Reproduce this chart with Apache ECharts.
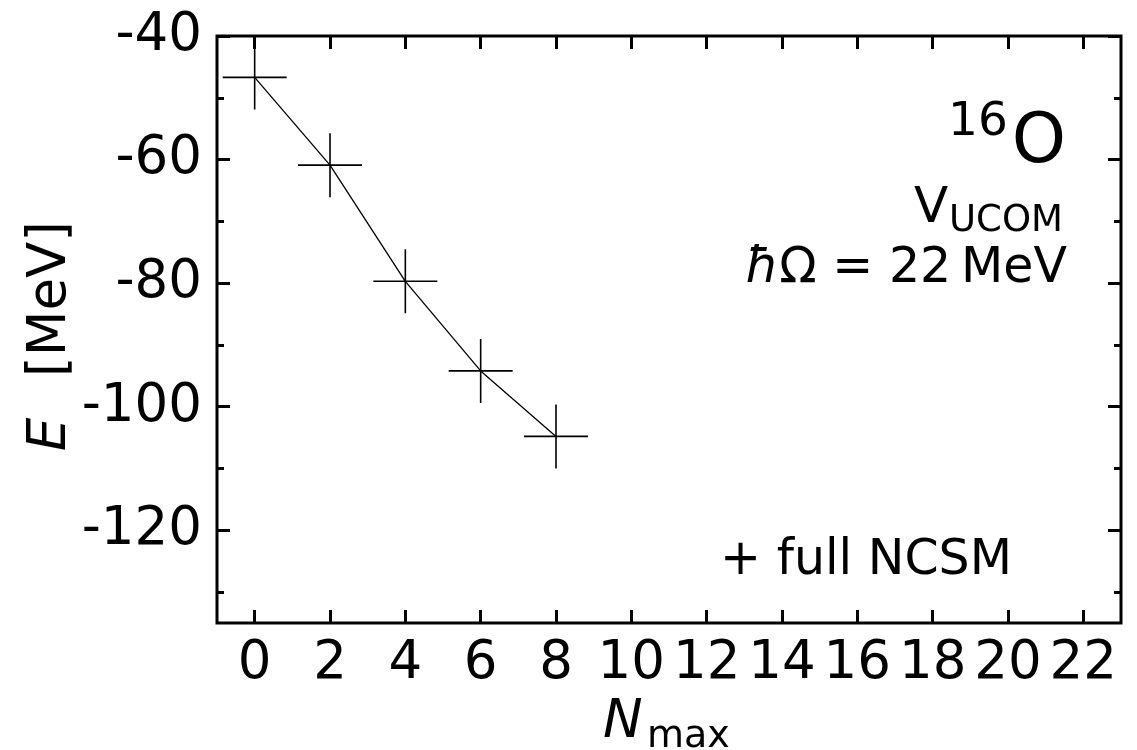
<!DOCTYPE html>
<html>
<head>
<meta charset="utf-8">
<script src="https://cdn.jsdelivr.net/npm/echarts@6/dist/echarts.min.js"></script>
<style>
html,body{margin:0;padding:0;background:#fff;}
#chart{width:1137px;height:750px;}
</style>
</head>
<body>
<div id="chart"></div>
<script>
// ---- data ----
const nmax = [0, 2, 4, 6, 8];
const energy = [-46.7, -60.9, -79.7, -94.2, -104.8];
const xTicks = [0, 2, 4, 6, 8, 10, 12, 14, 16, 18, 20, 22];
const yTicks = [-120, -100, -80, -60, -40];
const yMinorTicks = [-130, -110, -90, -70, -50];

const FONT = 'DejaVu Sans';
const chart = echarts.init(document.getElementById('chart'), null, {renderer: 'canvas'});

const seriesData = nmax.map((x, i) => [x, energy[i]]);
const crossPath = 'path://M0,50 L100,50 M50,0 L50,100';

function yAx(pos, vals, len, labels) {
  return {
    type: 'value', position: pos, min: -135, max: -40,
    axisLine: {show: false, onZero: false},
    splitLine: {show: false},
    axisTick: {show: true, inside: true, length: len, customValues: vals,
               lineStyle: {color: '#000', width: 3}},
    axisLabel: labels ? {show: true, customValues: vals, fontFamily: FONT, fontSize: 53,
               color: '#000', margin: 15, padding: [0, 0, 6, 0]} : {show: false}
  };
}
function xAx(pos, labels) {
  return {
    type: 'value', position: pos, min: -1, max: 23,
    axisLine: {show: false, onZero: false},
    splitLine: {show: false},
    axisTick: {show: true, inside: true, length: 13, customValues: xTicks,
               lineStyle: {color: '#000', width: 3}},
    axisLabel: labels ? {show: true, customValues: xTicks, fontFamily: FONT, fontSize: 53,
               color: '#000', margin: 15} : {show: false}
  };
}

const option = {
  animation: false,
  backgroundColor: '#fff',
  grid: {left: 217, top: 36, right: 16, bottom: 127, show: true,
         borderColor: '#000', borderWidth: 3, backgroundColor: 'transparent'},
  xAxis: [xAx('bottom', true), xAx('top', false)],
  yAxis: [yAx('left', yTicks, 13, true), yAx('left', yMinorTicks, 7, false),
          yAx('right', yTicks, 13, false), yAx('right', yMinorTicks, 7, false)],
  series: [{
    type: 'line', xAxisIndex: 0, yAxisIndex: 0,
    data: seriesData,
    symbol: crossPath, symbolSize: 64,
    itemStyle: {color: 'rgba(0,0,0,0)', borderColor: '#000', borderWidth: 1.6},
    lineStyle: {color: '#000', width: 1.3},
    clip: false
  }],
  graphic: [
    // 16O
    {type: 'text', x: 1066, y: 140 + 4.5, style: {text: 'O', font: '69px "DejaVu Sans"', fill: '#000', verticalAlign: 'middle', align: 'right'}},
    {type: 'text', x: 948, y: 120 + 3, style: {text: '16', font: '47px "DejaVu Sans"', fill: '#000', verticalAlign: 'middle', align: 'left'}},
    // V_UCOM
    {type: 'text', x: 914, y: 206.5 + 3, style: {text: 'V', font: '50px "DejaVu Sans"', fill: '#000', verticalAlign: 'middle', align: 'left'}},
    {type: 'text', x: 1063, y: 218.5 + 2.5, style: {text: 'UCOM', font: '37px "DejaVu Sans"', fill: '#000', verticalAlign: 'middle', align: 'right'}},
    // hbar Omega
    {type: 'text', x: 1067, y: 265.5 + 3.3, style: {
      text: '{i|ħ}Ω = 22\u2009MeV', font: '49px "DejaVu Sans"', fill: '#000', verticalAlign: 'middle', align: 'right',
      rich: {i: {fontFamily: FONT, fontStyle: 'italic', fontSize: 49, fill: '#000'}}}},
    // legend text
    {type: 'text', x: 720, y: 558 + 3.2, style: {text: '+ full NCSM', font: '49px "DejaVu Sans"', fill: '#000', verticalAlign: 'middle', align: 'left'}},
    // x axis title
    {type: 'text', x: 603, y: 720 + 3.5, style: {text: 'N', font: 'italic 53px "DejaVu Sans"', fill: '#000', verticalAlign: 'middle', align: 'left'}},
    {type: 'text', x: 647, y: 735 + 2.5, style: {text: 'max', font: '38px "DejaVu Sans"', fill: '#000', verticalAlign: 'middle', align: 'left'}},
    // y axis title (rotated)
    {type: 'text', x: 48 + 3.5, y: 434.5, rotation: Math.PI / 2, style: {text: 'E', font: 'italic 53px "DejaVu Sans"', fill: '#000', verticalAlign: 'middle', align: 'center'}},
    {type: 'text', x: 48 + 3.5, y: 299, rotation: Math.PI / 2, style: {text: '[MeV]', font: '53px "DejaVu Sans"', fill: '#000', verticalAlign: 'middle', align: 'center'}}
  ]
};
chart.setOption(option);
</script>
</body>
</html>
